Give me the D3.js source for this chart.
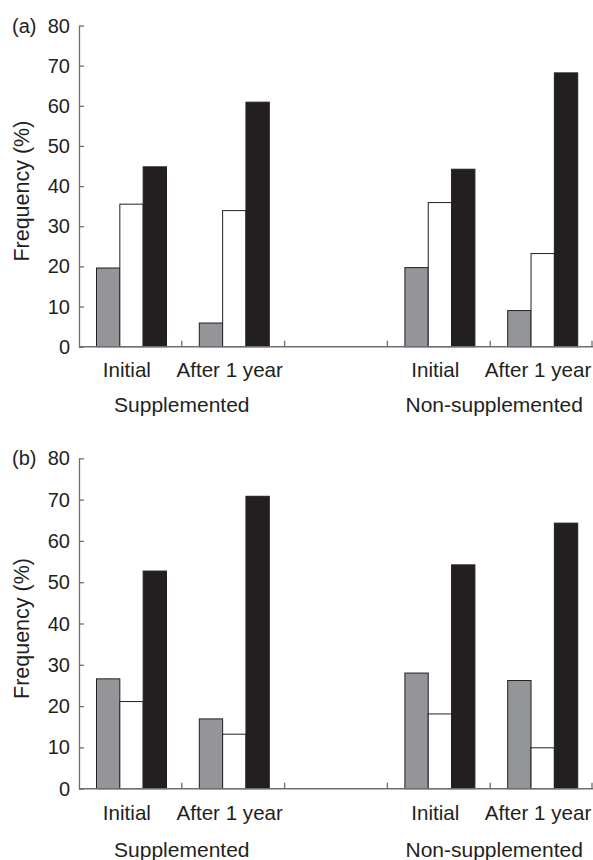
<!DOCTYPE html>
<html>
<head>
<meta charset="utf-8">
<script src="https://cdn.jsdelivr.net/npm/d3@7"></script>
<style>
  body { margin: 0; background: #fff; }
  text { font-family: "Liberation Sans", Arial, sans-serif; fill: #231f20; }
</style>
</head>
<body>
<svg id="chart" width="593" height="860"></svg>
<script>
// slots on the x axis (a blank slot separates the two groups)
const slots = ["supInitial", "supAfter", "gap", "nonInitial", "nonAfter"];
const slotLabels = ["Initial", "After 1 year", "", "Initial", "After 1 year"];
const groupLabels = ["Supplemented", "Non-supplemented"];
const series = ["grey", "white", "black"];
const yTicks = [0, 10, 20, 30, 40, 50, 60, 70, 80];

// panel (a) values, per slot: [grey, white, black]
const panelA = {
  supInitial: [19.6, 35.5, 44.8],
  supAfter: [5.9, 33.9, 60.9],
  nonInitial: [19.7, 35.9, 44.2],
  nonAfter: [9.0, 23.2, 68.2]
};
// panel (b) values
const panelB = {
  supInitial: [26.6, 21.1, 52.7],
  supAfter: [16.9, 13.2, 70.8],
  nonInitial: [28.0, 18.1, 54.2],
  nonAfter: [26.2, 9.9, 64.3]
};

const colors = { grey: "#939598", white: "#ffffff", black: "#231f20" };
const axisColor = "#6d6e71";

const svg = d3.select("#chart");

const x = d3.scaleBand().domain(slots).range([79, 593]).padding(0);
const xInner = d3.scaleBand().domain(series).range([17.5, 87.5]).padding(0);

function drawPanel(tag, data, top, bottom, tickDy, groupDy) {
  const y = d3.scaleLinear().domain([0, 80]).range([bottom, top]);
  const g = svg.append("g");

  // bars
  const slotG = g.selectAll(".slot")
    .data(slots.filter(s => data[s]))
    .enter()
    .append("g")
    .attr("transform", s => `translate(${x(s)},0)`);

  slotG.selectAll("rect")
    .data(s => data[s].map((v, i) => ({ key: series[i], value: v })))
    .enter()
    .append("rect")
    .attr("x", d => xInner(d.key))
    .attr("width", xInner.bandwidth())
    .attr("y", d => y(d.value))
    .attr("height", d => y(0) - y(d.value))
    .attr("fill", d => colors[d.key])
    .attr("stroke", "#231f20")
    .attr("stroke-width", 1);

  // y axis, ticks pointing inward
  const yAxis = g.append("g")
    .attr("transform", `translate(${x.range()[0]},0)`)
    .call(d3.axisRight(y).tickValues(yTicks).tickSize(5).tickSizeOuter(0).tickFormat(""));
  yAxis.selectAll("line, path").attr("stroke", axisColor).attr("stroke-width", 1.3);

  g.selectAll(".ylab")
    .data(yTicks)
    .enter()
    .append("text")
    .attr("x", 70)
    .attr("y", d => y(d))
    .attr("dy", "0.35em")
    .attr("text-anchor", "end")
    .style("font-size", "20px")
    .text(d => d);

  // x axis with slot-boundary ticks pointing up
  g.append("line")
    .attr("x1", x.range()[0]).attr("x2", x.range()[1])
    .attr("y1", y(0)).attr("y2", y(0))
    .attr("stroke", axisColor).attr("stroke-width", 1.6);

  g.selectAll(".xtick")
    .data(slots.slice(1).concat(["end"]))
    .enter()
    .append("line")
    .attr("x1", s => s === "end" ? x.range()[1] - 1 : x(s))
    .attr("x2", s => s === "end" ? x.range()[1] - 1 : x(s))
    .attr("y1", y(0))
    .attr("y2", y(0) - 6)
    .attr("stroke", axisColor)
    .attr("stroke-width", 1.3);

  g.selectAll(".xlab")
    .data(slots)
    .enter()
    .append("text")
    .attr("x", s => x(s) + x.bandwidth() / 2 - 3.5)
    .attr("y", y(0) + tickDy)
    .attr("text-anchor", "middle")
    .style("font-size", "20.6px")
    .text((s, i) => slotLabels[i]);

  g.selectAll(".glab")
    .data(groupLabels)
    .enter()
    .append("text")
    .attr("x", (d, i) => i === 0 ? x("supAfter") : x("nonAfter") + 4)
    .attr("y", y(0) + groupDy)
    .attr("text-anchor", "middle")
    .style("font-size", "21px")
    .text(d => d);

  g.append("text")
    .attr("transform", `translate(29,${(top + bottom) / 2 + 5}) rotate(-90)`)
    .attr("text-anchor", "middle")
    .style("font-size", "21.5px")
    .text("Frequency (%)");

  g.append("text")
    .attr("x", 12)
    .attr("y", y(80))
    .attr("dy", "0.35em")
    .style("font-size", "20px")
    .text(tag);
}

drawPanel("(a)", panelA, 25.5, 346.7, 30, 65);
drawPanel("(b)", panelB, 458.3, 788.7, 31, 68);
</script>
</body>
</html>
